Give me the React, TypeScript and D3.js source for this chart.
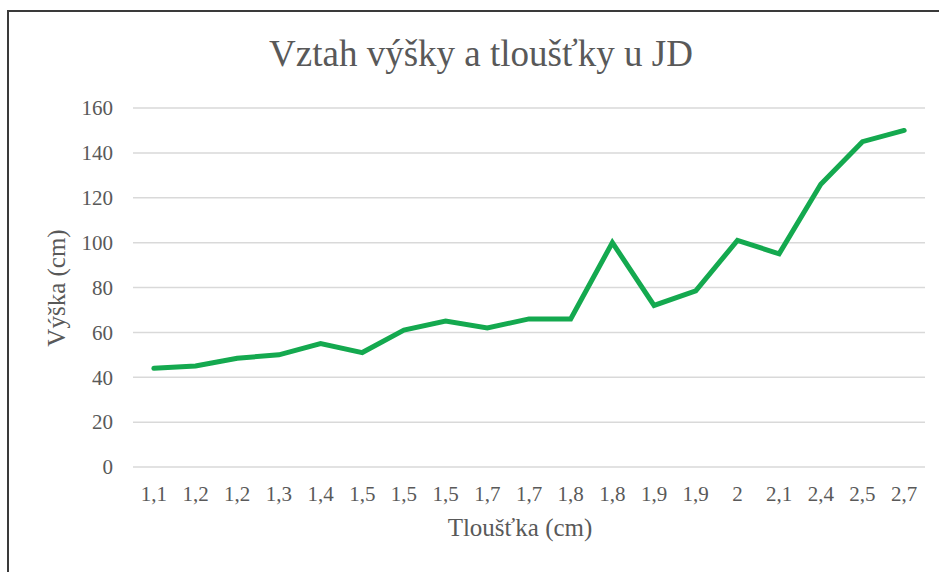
import React from "react";
import * as d3 from "d3";

const categories = ["1,1","1,2","1,2","1,3","1,4","1,5","1,5","1,5","1,7","1,7","1,8","1,8","1,9","1,9","2","2,1","2,4","2,5","2,7"];
const heights = [44, 45, 48.5, 50, 55, 51, 61, 65, 62, 66, 66, 100, 72, 78.5, 101, 95, 126, 145, 150];
const yTicks = [0, 20, 40, 60, 80, 100, 120, 140, 160];
const title = "Vztah výšky a tloušťky u JD";
const xTitle = "Tloušťka (cm)";
const yTitle = "Výška (cm)";

const W = 939, H = 572;
const plot = { left: 133, right: 925, top: 108, bottom: 467 };
const font = "'Liberation Serif', 'Times New Roman', serif";
const textColor = "#595959";

export default function App() {
  const x = d3.scaleBand<number>().domain(d3.range(categories.length)).range([plot.left, plot.right]);
  const y = d3.scaleLinear().domain([0, 160]).range([plot.bottom, plot.top]);
  const line = d3.line<number>().x((_, i) => (x(i) as number) + x.bandwidth() / 2).y((d) => y(d));
  const ts = { fontFamily: font, fill: textColor } as React.CSSProperties;
  return (
    <svg width={W} height={H} style={{ position: "absolute", left: 0, top: 0, background: "#fff" }}>
      <rect x={0} y={0} width={W} height={H} fill="#fff" />
      <rect x={8} y={11} width={W + 20} height={H + 20} fill="none" stroke="#3a3a3a" strokeWidth={2} />
      <text x={481} y={66} textAnchor="middle" style={{ ...ts, fontSize: 37 }}>{title}</text>
      {yTicks.map((t) => (
        <g key={t}>
          <line x1={plot.left} x2={plot.right} y1={y(t)} y2={y(t)} stroke="#d9d9d9" strokeWidth={1.5} />
          <text x={113} y={y(t)} dy="0.35em" textAnchor="end" style={{ ...ts, fontSize: 21 }}>{t}</text>
        </g>
      ))}
      {categories.map((c, i) => (
        <text key={i} x={(x(i) as number) + x.bandwidth() / 2} y={501} textAnchor="middle" style={{ ...ts, fontSize: 21 }}>{c}</text>
      ))}
      <path d={line(heights) || ""} fill="none" stroke="#14a94f" strokeWidth={5} strokeLinejoin="miter" strokeLinecap="round" />
      <text x={520} y={536} textAnchor="middle" style={{ ...ts, fontSize: 25 }}>{xTitle}</text>
      <text transform={`translate(65,288) rotate(-90)`} textAnchor="middle" style={{ ...ts, fontSize: 25 }}>{yTitle}</text>
    </svg>
  );
}
